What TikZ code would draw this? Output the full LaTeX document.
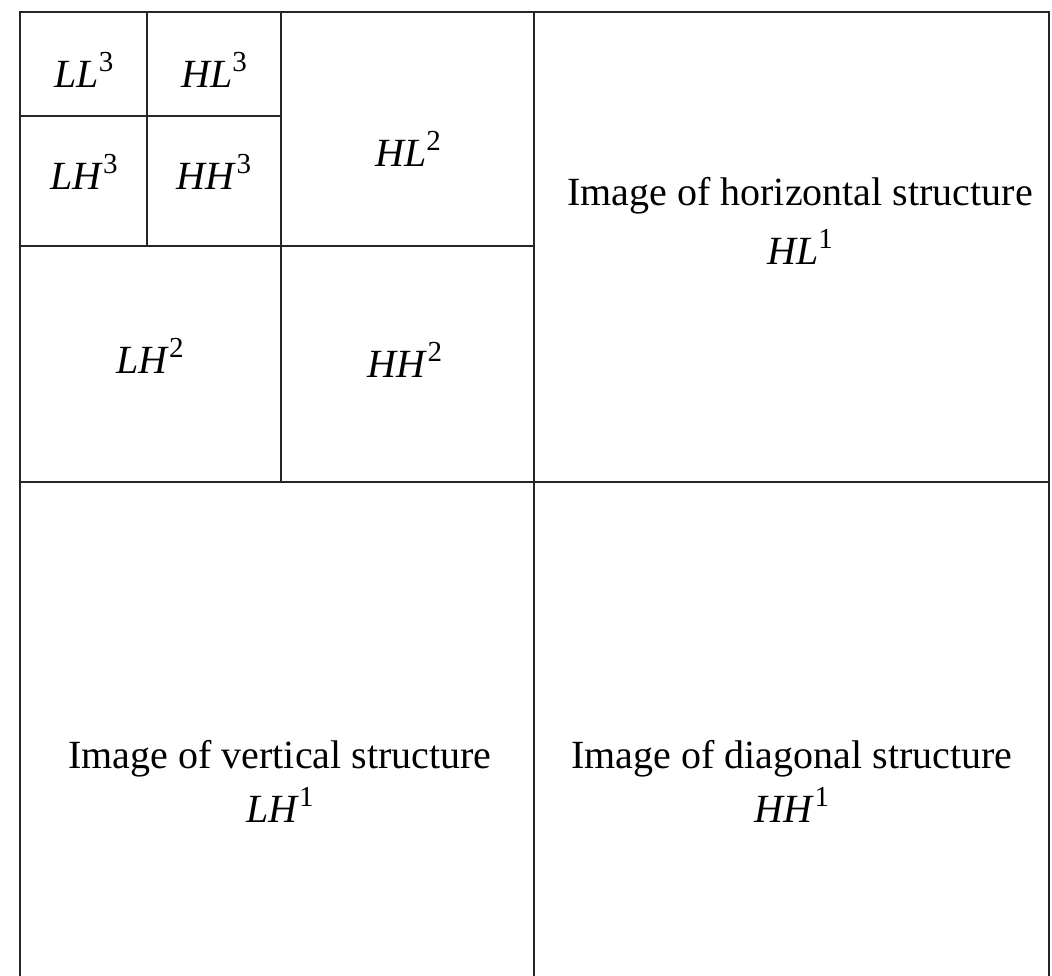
\documentclass[tikz,border=0pt]{standalone}
\usepackage{fontspec}
\setmainfont{Liberation Serif}
\tikzset{
  grid line/.style={draw=black!85, line width=1.8pt},
  lbl/.style={font=\fontsize{40}{46}\selectfont, inner sep=0pt, anchor=base},
}
\newcommand{\lab}[2]{\textit{#1}\raisebox{16pt}{\fontsize{29}{30}\selectfont #2}}
\begin{document}
\begin{tikzpicture}[x=1pt,y=-1pt]
\useasboundingbox (0,0) rectangle (1052,976);
% outer frame (bottom edge cut off)
\draw[grid line] (20,976) -- (20,12) -- (1049,12) -- (1049,976);
% main split
\draw[grid line] (534,12) -- (534,976);
\draw[grid line] (20,482) -- (1049,482);
% level 2
\draw[grid line] (281,12) -- (281,482);
\draw[grid line] (20,246) -- (534,246);
% level 3
\draw[grid line] (147,12) -- (147,246);
\draw[grid line] (20,116) -- (281,116);
% labels
\node[lbl] (ll3) at (84,88) {\lab{LL}{3}};
\node[lbl] (hl3) at (214,88) {\lab{HL}{3}};
\node[lbl] (lh3) at (84,190) {\lab{LH}{3}};
\node[lbl] (hh3) at (214,190) {\lab{HH}{3}};
\node[lbl] (hl2) at (408,167) {\lab{HL}{2}};
\node[lbl] (lh2) at (150,373) {\lab{LH}{2}};
\node[lbl] (hh2) at (405,377) {\lab{HH}{2}};
\node[lbl] (hl1t) at (800,206) {Image of horizontal structure};
\node[lbl] (hl1) at (800,265) {\lab{HL}{1}};
\node[lbl] (lh1t) at (280,768) {Image of vertical structure};
\node[lbl] (lh1) at (280,822) {\lab{LH}{1}};
\node[lbl] (hh1t) at (792,768) {Image of diagonal structure};
\node[lbl] (hh1) at (792,822) {\lab{HH}{1}};
\end{tikzpicture}
\end{document}
